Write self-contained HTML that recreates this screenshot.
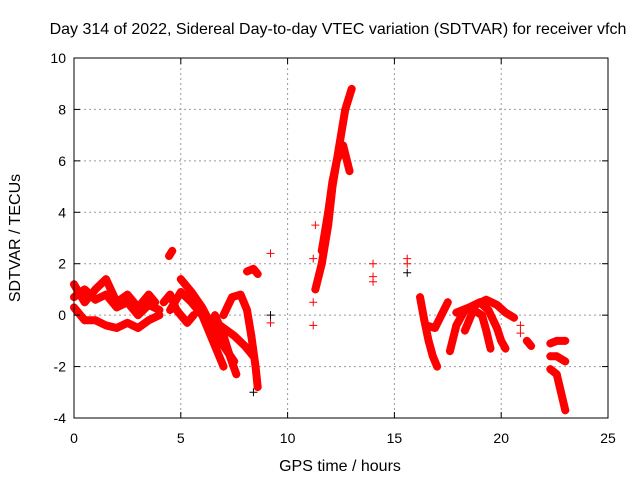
<!DOCTYPE html>
<html><head><meta charset="utf-8"><style>
body{margin:0;background:#fff}
svg{display:block;font-family:"Liberation Sans",sans-serif}
</style></head><body>
<svg id="chart" width="640" height="480">
<rect width="640" height="480" fill="#fff"/>
<text x="338" y="34" font-size="16" text-anchor="middle">Day 314 of 2022, Sidereal Day-to-day VTEC variation (SDTVAR) for receiver vfch</text>
<g id="grid"></g>
<g id="tracks"></g>
<g id="axes"></g>
<text x="340" y="471" font-size="16" text-anchor="middle">GPS time / hours</text>
<text transform="translate(20,238) rotate(-90)" font-size="16" text-anchor="middle">SDTVAR / TECUs</text>
</svg>
<script>
const xTicks=[0,5,10,15,20,25];
const yTicks=[-4,-2,0,2,4,6,8,10];
const trackA=[[0,1.2],[0.5,0.5],[1,1.0],[1.5,1.4],[2,0.5],[2.5,0.8],[3,0.3],[3.5,0.8],[3.8,0.5]];
const trackB=[[0,0.7],[0.5,1.0],[1,0.6],[1.5,0.8],[2,0.3],[2.5,0.5],[3,0.0],[3.5,0.4],[4,0.2]];
const trackC=[[0,0.3],[0.5,-0.2],[1,-0.2],[1.5,-0.4],[2,-0.5],[2.5,-0.3],[3,-0.5],[3.5,-0.2],[4,0.0]];
const trackD=[[4.2,0.5],[4.5,0.8],[4.8,0.2],[5,0.0],[5.3,-0.3],[5.6,0.0]];
const trackE=[[4.5,0.2],[5,0.9],[5.5,0.5],[6,0.0],[6.5,-0.2],[7,-0.5],[7.5,-0.8],[8,-1.2],[8.4,-1.6]];
const trackF=[[5,1.4],[5.5,0.9],[6,0.3],[6.5,-0.5],[7,-1.2],[7.5,-1.8]];
const trackG=[[6,0.0],[6.3,-0.6],[6.6,-1.2],[6.9,-1.8],[7,-2.0]];
const trackH=[[6.6,0.0],[7,-0.8],[7.3,-1.6],[7.6,-2.3]];
const trackI=[[7,0.0],[7.4,0.7],[7.8,0.8],[8.1,0.2],[8.3,-0.8],[8.5,-2.0],[8.6,-2.8]];
const trackJ=[[4.45,2.3],[4.6,2.5]];
const trackK=[[8.1,1.7],[8.4,1.8],[8.6,1.6]];
const trackL=[[11.3,1.0],[11.6,2.0],[11.9,3.5],[12.1,5.0],[12.4,6.5],[12.7,8.0],[13,8.8]];
const trackM=[[11.6,2.5],[11.9,4.0],[12.1,5.2],[12.3,6.0],[12.6,6.6],[12.9,5.6]];
const trackN=[[16.2,0.7],[16.4,-0.2],[16.6,-1.0],[16.8,-1.6],[17,-2.0]];
const trackO=[[16.5,-0.4],[16.9,-0.5],[17.2,0.0],[17.5,0.5]];
const trackP=[[17.6,-1.4],[17.9,-0.4],[18.3,0.2],[18.8,0.4],[19.3,0.6],[19.8,0.4],[20.2,0.1],[20.6,-0.1]];
const trackQ=[[17.9,0.1],[18.5,0.3],[19,0.5],[19.4,0.2],[19.8,-0.5],[20,-1.0],[20.2,-1.3]];
const trackR=[[18.3,-0.6],[18.7,0.2],[19.1,0.0],[19.3,-0.6],[19.5,-1.3]];
const trackS=[[21.2,-1.0],[21.4,-1.2]];
const trackT=[[22.3,-1.1],[22.6,-1.0],[23,-1.0]];
const trackU=[[22.3,-1.6],[22.6,-1.6],[23,-1.8]];
const trackV=[[22.3,-2.1],[22.6,-2.3],[22.8,-3.0],[23,-3.7]];
const tracks=[trackA,trackB,trackC,trackD,trackE,trackF,trackG,trackH,trackI,trackJ,trackK,trackL,trackM,trackN,trackO,trackP,trackQ,trackR,trackS,trackT,trackU,trackV];
const redPoints=[[9.2,-0.3],[9.2,2.4],[11.2,-0.4],[11.2,0.5],[11.2,2.2],[11.3,3.5],[14,2.0],[14,1.5],[14,1.3],[15.6,2.2],[15.6,2.0],[20.9,-0.4],[20.9,-0.7]];
const blackPoints=[[9.2,0.0],[15.6,1.65],[8.4,-3.0]];
const X0=74,X1=608,Y0=418,Y1=58;
const sx=h=>X0+h/25*(X1-X0);
const sy=v=>Y0-(v+4)/14*(Y0-Y1);
const NS="http://www.w3.org/2000/svg";
const grid=document.getElementById('grid'),axes=document.getElementById('axes'),tg=document.getElementById('tracks');
function mk(tag,attrs,parent){const e=document.createElementNS(NS,tag);for(const k in attrs)e.setAttribute(k,attrs[k]);parent.appendChild(e);return e;}
xTicks.forEach(t=>{
  if(t>0&&t<25){const l=mk('line',{x1:sx(t),x2:sx(t),y1:Y1,y2:Y0,stroke:'#999','stroke-dasharray':'2,3'},grid);
  
  }
  const tx=mk('text',{x:sx(t),y:Y0+25,'font-size':14,'text-anchor':'middle'},axes);tx.textContent=t;
  
  
  mk('line',{x1:sx(t),x2:sx(t),y1:Y0,y2:Y0-6,stroke:'#000'},axes);
  mk('line',{x1:sx(t),x2:sx(t),y1:Y1,y2:Y1+6,stroke:'#000'},axes);
});
yTicks.forEach(t=>{
  if(t>-4&&t<10){const l=mk('line',{x1:X0,x2:X1,y1:sy(t),y2:sy(t),stroke:'#999','stroke-dasharray':'2,3'},grid);
  
  }
  const tx=mk('text',{x:X0-8,y:sy(t)+5,'font-size':14,'text-anchor':'end'},axes);tx.textContent=t;
  
  
  mk('line',{x1:X0,x2:X0+6,y1:sy(t),y2:sy(t),stroke:'#000'},axes);
  mk('line',{x1:X1,x2:X1-6,y1:sy(t),y2:sy(t),stroke:'#000'},axes);
});
const fr=mk('rect',{x:X0,y:Y1,width:X1-X0,height:Y0-Y1,fill:'none',stroke:'#000'},axes);


function plus(h,v,c){const x=sx(h),y=sy(v);mk('path',{d:`M${x-4},${y}H${x+4}M${x},${y-4}V${y+4}`,stroke:c,'stroke-width':1},tg);}
tracks.forEach(tr=>{
  const p=mk('polyline',{points:tr.map(d=>sx(d[0])+','+sy(d[1])).join(' '),fill:'none',stroke:'#f00','stroke-width':8,'stroke-linejoin':'round','stroke-linecap':'round'},tg);
  
  
  tr.forEach(d=>plus(d[0],d[1],'#f00'));
});
redPoints.forEach(d=>plus(d[0],d[1],'#f00'));
blackPoints.forEach(d=>plus(d[0],d[1],'#000'));
</script>
</body></html>
